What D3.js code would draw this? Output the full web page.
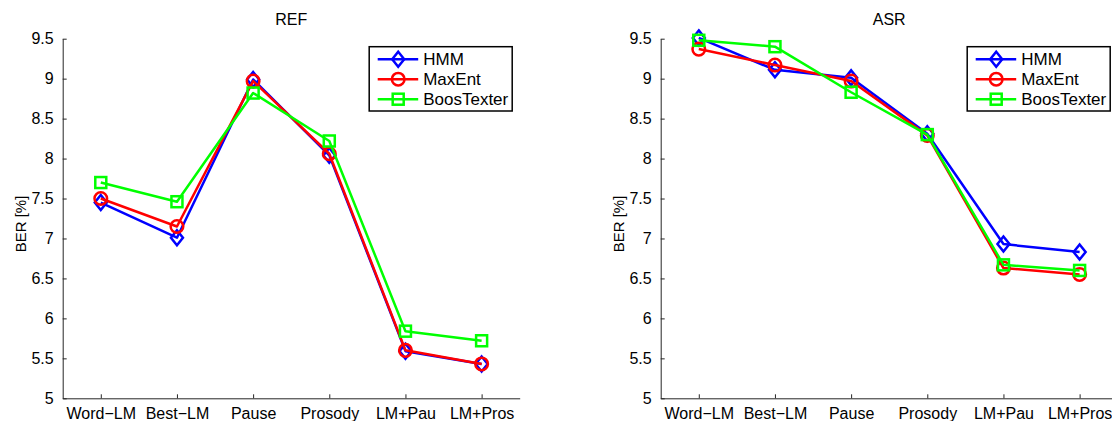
<!DOCTYPE html>
<html>
<head>
<meta charset="utf-8">
<script src="https://cdn.jsdelivr.net/npm/d3@7"></script>
<style>
  body { margin: 0; background: #fff; }
  svg { font-family: "Liberation Sans", Arial, sans-serif; }
</style>
</head>
<body>
<svg width="1112" height="421"></svg>
<script>
var categories = ["Word\u2212LM", "Best\u2212LM", "Pause", "Prosody", "LM+Pau", "LM+Pros"];
var seriesNames = ["HMM", "MaxEnt", "BoosTexter"];
var yTicks = [5, 5.5, 6, 6.5, 7, 7.5, 8, 8.5, 9, 9.5];

// REF transcripts
var refHMM = [7.45, 7.01, 8.99, 8.04, 5.59, 5.43];
var refMaxEnt = [7.50, 7.15, 8.97, 8.06, 5.60, 5.43];
var refBoos = [7.70, 7.46, 8.82, 8.22, 5.84, 5.72];

// ASR transcripts
var asrHMM = [9.51, 9.11, 9.01, 8.31, 6.93, 6.83];
var asrMaxEnt = [9.37, 9.17, 8.97, 8.29, 6.63, 6.55];
var asrBoos = [9.48, 9.40, 8.83, 8.30, 6.67, 6.60];

var colors = ["#0000ff", "#ff0000", "#00ff00"];
var markers = ["diamond", "circle", "square"];

var svg = d3.select("svg");

function marker(g, type, x, y, color) {
    if (type == "diamond") {
        g.append("path")
            .attr("d", "M" + x + "," + (y - 7.5) + "L" + (x + 6) + "," + y + "L" + x + "," + (y + 7.5) + "L" + (x - 6) + "," + y + "Z")
            .attr("fill", "none").attr("stroke", color).attr("stroke-width", 2.5);
    } else if (type == "circle") {
        g.append("circle").attr("cx", x).attr("cy", y).attr("r", 6.3)
            .attr("fill", "none").attr("stroke", color).attr("stroke-width", 2.5);
    } else {
        g.append("rect").attr("x", x - 5.5).attr("y", y - 5.5).attr("width", 11).attr("height", 11)
            .attr("fill", "none").attr("stroke", color).attr("stroke-width", 2.5);
    }
}

function panel(left, title, data) {
    var x = d3.scaleLinear().domain([0.5, 6.5]).range([left, left + 457]);
    var y = d3.scaleLinear().domain([5, 9.5]).range([398.3, 38.7]);
    var g = svg.append("g");

    // axes (MATLAB style: ticks inside, box off)
    var ya = g.append("g").attr("transform", "translate(" + left + ",0)")
        .call(d3.axisLeft(y).tickValues(yTicks).tickSizeInner(-4).tickSizeOuter(0).tickPadding(9)
            .tickFormat(function(d) { return d3.format("")(d); }));
    var xa = g.append("g").attr("transform", "translate(0,398.3)")
        .call(d3.axisBottom(x).tickValues(d3.range(1, 7)).tickSizeInner(-4).tickSizeOuter(0).tickPadding(6)
            .tickFormat(function(d) { return categories[d - 1]; }));
    [ya, xa].forEach(function(a) {
        a.selectAll("path, line").attr("stroke", "#262626");
        a.selectAll("text").attr("fill", "#000").style("font-size", "16px");
    });
    xa.selectAll("text").attr("dy", "0.9em");

    g.append("text").attr("x", (x.range()[0] + x.range()[1]) / 2).attr("y", 25)
        .attr("text-anchor", "middle").style("font-size", "16px").text(title);
    g.append("text")
        .attr("transform", "translate(" + (left - 37) + "," + 224 + ") rotate(-90)")
        .attr("text-anchor", "middle").style("font-size", "15px").text("BER [%]");

    var line = d3.line().x(function(d, i) { return x(i + 1); }).y(function(d) { return y(d); });
    data.forEach(function(vals, s) {
        g.append("path").datum(vals).attr("d", line)
            .attr("fill", "none").attr("stroke", colors[s]).attr("stroke-width", 2.5)
            .attr("stroke-linejoin", "round");
        vals.forEach(function(v, i) { marker(g, markers[s], x(i + 1), y(v), colors[s]); });
    });

    // legend
    var lx = left + 306.5, ly = 46.7;
    var lg = g.append("g");
    lg.append("rect").attr("x", lx).attr("y", ly).attr("width", 143).attr("height", 64.3)
        .attr("fill", "#fff").attr("stroke", "#000").attr("stroke-width", 1.5);
    seriesNames.forEach(function(name, s) {
        var ry = ly + 12.5 + s * 20;
        lg.append("line").attr("x1", lx + 8.5).attr("x2", lx + 49).attr("y1", ry).attr("y2", ry)
            .attr("stroke", colors[s]).attr("stroke-width", 2.5);
        marker(lg, markers[s], lx + 29, ry, colors[s]);
        lg.append("text").attr("x", lx + 54).attr("y", ry + 6).style("font-size", "17px").text(name);
    });
}

panel(62.7, "REF", [refHMM, refMaxEnt, refBoos]);
panel(660.7, "ASR", [asrHMM, asrMaxEnt, asrBoos]);
</script>
</body>
</html>
